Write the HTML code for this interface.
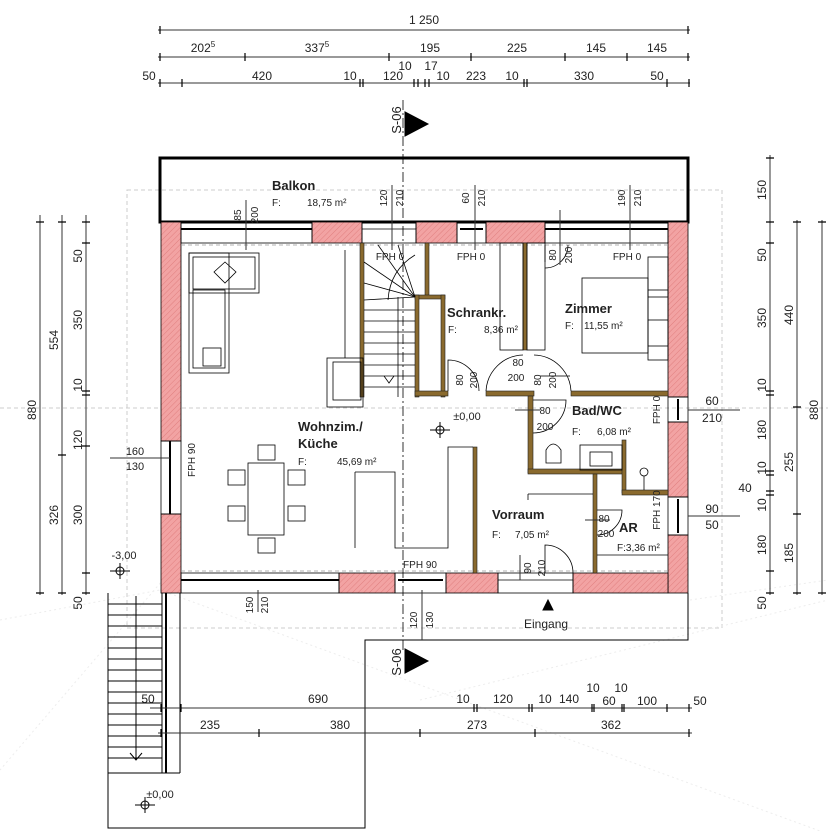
<!DOCTYPE html>
<html><head><meta charset="utf-8"><style>
html,body{margin:0;padding:0;background:#fff;}
svg{display:block;font-family:"Liberation Sans",sans-serif;}
</style></head><body>
<svg width="828" height="831" viewBox="0 0 828 831" xmlns="http://www.w3.org/2000/svg">
<defs>
<pattern id="h" width="4" height="4" patternUnits="userSpaceOnUse" patternTransform="rotate(45)">
<rect width="4" height="4" fill="#f2a3a3"/><line x1="0" y1="0" x2="0" y2="4" stroke="#e07f7f" stroke-width="1"/>
</pattern>
</defs>
<rect width="828" height="831" fill="#fff"/>
<g stroke="#ccc" stroke-width="1" stroke-dasharray="4,3" fill="none">
<rect x="127" y="190" width="595" height="438"/>
<line x1="0" y1="408" x2="828" y2="408"/>
</g>
<g stroke="#ededed" stroke-width="1" stroke-dasharray="2,3" fill="none">
<line x1="0" y1="620" x2="160" y2="590"/>
<line x1="180" y1="560" x2="0" y2="770"/>
<line x1="690" y1="600" x2="828" y2="580"/>
<line x1="160" y1="590" x2="820" y2="831"/>
<line x1="420" y1="700" x2="828" y2="600"/>
</g>
<line x1="403" y1="100" x2="403" y2="650" stroke="#000" stroke-width="0.8" stroke-dasharray="10,3,2,3"/>

<rect x="160" y="158" width="528" height="64" fill="none" stroke="#000" stroke-width="3"/>
<polyline points="108,593 108,828 365,828 365,640 688,640 688,593" fill="none" stroke="#000" stroke-width="1"/>

<g fill="url(#h)" stroke="#000" stroke-width="0.8">
<rect x="161" y="222" width="20" height="219"/>
<rect x="161" y="514" width="20" height="79"/>
<rect x="668" y="222" width="20" height="175"/>
<rect x="668" y="422" width="20" height="75"/>
<rect x="668" y="535" width="20" height="58"/>
<rect x="312" y="222" width="50" height="21"/>
<rect x="416" y="222" width="41" height="21"/>
<rect x="486" y="222" width="59" height="21"/>
<rect x="339" y="573" width="56" height="20"/>
<rect x="446" y="573" width="52" height="20"/>
<rect x="573" y="573" width="95" height="20"/>
</g>
<g stroke="#000" fill="none" stroke-width="0.8">
<rect x="181" y="222" width="131" height="21"/><line x1="181" y1="229" x2="312" y2="229" stroke-width="2"/>
<rect x="362" y="222" width="54" height="21"/><line x1="362" y1="229" x2="416" y2="229"/>
<rect x="457" y="222" width="29" height="21"/><line x1="460" y1="229" x2="483" y2="229" stroke-width="2"/>
<rect x="545" y="222" width="123" height="21"/><line x1="545" y1="229" x2="668" y2="229" stroke-width="2"/>
<rect x="161" y="441" width="20" height="73"/><line x1="170" y1="441" x2="170" y2="514" stroke-width="2"/>
<rect x="668" y="397" width="20" height="25"/><line x1="678" y1="399" x2="678" y2="420" stroke-width="2"/>
<rect x="668" y="497" width="20" height="38"/><line x1="678" y1="499" x2="678" y2="533" stroke-width="2"/>
<rect x="181" y="573" width="158" height="20"/><line x1="181" y1="580" x2="339" y2="580" stroke-width="2"/>
<rect x="395" y="573" width="51" height="20"/><line x1="398" y1="580" x2="443" y2="580" stroke-width="2"/>
<rect x="498" y="573" width="75" height="20"/><line x1="498" y1="580" x2="573" y2="580"/>
</g>
<line x1="181" y1="245" x2="668" y2="245" stroke="#999" stroke-dasharray="4,3" stroke-width="0.8"/>
<line x1="181" y1="571" x2="668" y2="571" stroke="#999" stroke-dasharray="4,3" stroke-width="0.8"/>

<g fill="#8a6a2e" stroke="#222" stroke-width="0.6">
<rect x="360" y="243" width="4" height="154"/>
<rect x="425" y="243" width="4" height="54"/>
<rect x="415" y="295" width="30" height="4"/>
<rect x="415" y="295" width="4" height="102"/>
<rect x="441" y="295" width="4" height="102"/>
<rect x="523" y="243" width="4" height="107"/>
<rect x="415" y="391" width="33" height="5"/>
<rect x="486" y="391" width="48" height="5"/>
<rect x="571" y="391" width="97" height="5"/>
<rect x="528" y="396" width="5" height="77"/>
<rect x="528" y="469" width="97" height="5"/>
<rect x="622" y="440" width="4" height="53"/>
<rect x="622" y="490" width="46" height="5"/>
<rect x="593" y="474" width="4" height="99"/>
<rect x="473" y="447" width="4" height="126"/>
</g>

<g stroke="#000" stroke-width="0.8" fill="none">
<rect x="327" y="358" width="36" height="49"/>
<rect x="333" y="362" width="28" height="38"/>
<line x1="345" y1="250" x2="345" y2="358"/>
<line x1="398" y1="297" x2="398" y2="397"/>
<line x1="364" y1="310" x2="415" y2="310"/><line x1="364" y1="321" x2="415" y2="321"/>
<line x1="364" y1="332" x2="415" y2="332"/><line x1="364" y1="343" x2="415" y2="343"/>
<line x1="364" y1="354" x2="415" y2="354"/><line x1="364" y1="365" x2="415" y2="365"/>
<line x1="364" y1="376" x2="415" y2="376"/><line x1="364" y1="387" x2="415" y2="387"/>
<line x1="415" y1="297" x2="364" y2="283"/><line x1="415" y1="297" x2="364" y2="262"/>
<line x1="415" y1="297" x2="378" y2="245"/><line x1="415" y1="297" x2="398" y2="245"/>
<line x1="415" y1="297" x2="364" y2="300"/>
<path d="M388,300 Q390,270 415,255"/>
<polyline points="384,376 389,383 394,376"/>
</g>

<g stroke="#000" stroke-width="0.8" fill="none">
<rect x="189" y="253" width="70" height="40"/><rect x="193" y="257" width="62" height="32"/>
<rect x="189" y="253" width="40" height="120"/><rect x="193" y="290" width="32" height="78"/>
<rect x="203" y="348" width="18" height="18"/>
<polygon points="225,262 236,272 225,283 214,272"/>
<rect x="248" y="463" width="36" height="72"/>
<rect x="228" y="470" width="17" height="15"/><rect x="228" y="506" width="17" height="15"/>
<rect x="288" y="470" width="17" height="15"/><rect x="288" y="506" width="17" height="15"/>
<rect x="258" y="445" width="17" height="15"/><rect x="258" y="538" width="17" height="15"/>
<polyline points="355,472 395,472 395,548 448,548 448,447 473,447"/>
<polyline points="355,472 355,548"/>
<rect x="500" y="243" width="23" height="107"/>
<rect x="527" y="243" width="18" height="107"/>
<rect x="582" y="278" width="66" height="75"/>
<rect x="648" y="257" width="20" height="40"/><rect x="648" y="320" width="20" height="40"/>
<rect x="648" y="290" width="20" height="56"/>
<path d="M546,463 L546,450 Q553,438 561,450 L561,463 Z"/>
<rect x="580" y="445" width="42" height="25"/><rect x="590" y="452" width="22" height="14"/>
<circle cx="644" cy="472" r="4"/><line x1="644" y1="476" x2="644" y2="490"/>
<line x1="528" y1="494" x2="593" y2="494"/><line x1="528" y1="494" x2="528" y2="500"/>
<line x1="597" y1="555" x2="668" y2="555"/>
<path d="M448,391 L448,360 A31,31 0 0 1 479,391"/>
<path d="M486,391 A38,38 0 0 1 523,355"/><path d="M571,391 A38,38 0 0 0 534,355"/>
<path d="M533,400 L566,400 A33,33 0 0 1 533,433"/>
<path d="M545,262 L545,245 M568,245 A23,23 0 0 1 545,268"/>
<path d="M597,510 L622,510 A25,25 0 0 1 597,535"/>
<path d="M545,573 L545,545 A28,28 0 0 1 573,573"/>
</g>

<g stroke="#000" stroke-width="1" fill="none">
<line x1="162" y1="593" x2="162" y2="773"/><line x1="166" y1="593" x2="166" y2="773" stroke-width="2"/>
<line x1="180" y1="593" x2="180" y2="773"/>
<line x1="108" y1="773" x2="180" y2="773"/>
<line x1="136" y1="596" x2="136" y2="760"/><polyline points="130,753 136,760 142,753"/>
</g>
<g stroke="#000" stroke-width="1">
<line x1="108" y1="604" x2="162" y2="604"/><line x1="108" y1="615" x2="162" y2="615"/>
<line x1="108" y1="626" x2="162" y2="626"/><line x1="108" y1="637" x2="162" y2="637"/>
<line x1="108" y1="648" x2="162" y2="648"/><line x1="108" y1="659" x2="162" y2="659"/>
<line x1="108" y1="670" x2="162" y2="670"/><line x1="108" y1="681" x2="162" y2="681"/>
<line x1="108" y1="692" x2="162" y2="692"/><line x1="108" y1="703" x2="162" y2="703"/>
<line x1="108" y1="714" x2="162" y2="714"/><line x1="108" y1="725" x2="162" y2="725"/>
<line x1="108" y1="736" x2="162" y2="736"/><line x1="108" y1="747" x2="162" y2="747"/>
<line x1="108" y1="758" x2="162" y2="758"/>
</g>

<g stroke="#000" stroke-width="1" fill="#000">
<circle cx="120" cy="571" r="4" fill="none"/><line x1="110" y1="571" x2="130" y2="571"/><line x1="120" y1="563" x2="120" y2="579"/>
<circle cx="145" cy="805" r="4" fill="none"/><line x1="135" y1="805" x2="155" y2="805"/><line x1="145" y1="797" x2="145" y2="813"/>
<circle cx="440" cy="430" r="4" fill="none"/><line x1="430" y1="430" x2="450" y2="430"/><line x1="440" y1="422" x2="440" y2="438"/>
<polygon points="405,112 428,124 405,136"/>
<polygon points="405,649 428,661 405,673"/>
<polygon points="548,600 543,610 553,610"/>
</g>

<g stroke="#333" stroke-width="1" fill="none">
<line x1="158" y1="30" x2="690" y2="30"/>
<line x1="158" y1="57" x2="690" y2="57"/>
<line x1="158" y1="83" x2="690" y2="83"/>
<line x1="40" y1="215" x2="40" y2="595"/>
<line x1="62" y1="215" x2="62" y2="595"/>
<line x1="86" y1="215" x2="86" y2="595"/>
<line x1="770" y1="155" x2="770" y2="595"/>
<line x1="797" y1="220" x2="797" y2="595"/>
<line x1="822" y1="220" x2="822" y2="595"/>
<line x1="150" y1="708" x2="692" y2="708"/>
<line x1="158" y1="733" x2="692" y2="733"/>
<line x1="110" y1="458" x2="170" y2="458"/>
<line x1="688" y1="410" x2="740" y2="410"/>
<line x1="688" y1="516" x2="740" y2="516"/>
<line x1="246" y1="200" x2="246" y2="250"/>
<line x1="392" y1="185" x2="392" y2="250"/>
<line x1="475" y1="185" x2="475" y2="250"/>
<line x1="630" y1="185" x2="630" y2="250"/>
<line x1="258" y1="590" x2="258" y2="612"/>
<line x1="422" y1="590" x2="422" y2="640"/>
<line x1="560" y1="210" x2="560" y2="265"/>
<line x1="540" y1="376" x2="570" y2="376"/>
<line x1="515" y1="410" x2="540" y2="410"/>
<line x1="585" y1="520" x2="610" y2="520"/>
<line x1="520" y1="555" x2="520" y2="580"/>
</g>
<g stroke="#000" stroke-width="1.2">
<path d="M160,26v8M688,26v8M160,53v8M245,53v8M389,53v8M471,53v8M565,53v8M627,53v8M688,53v8"/>
<path d="M160,79v8M182,79v8M360,79v8M363,79v8M414,79v8M418,79v8M425,79v8M429,79v8M524,79v8M527,79v8M667,79v8M689,79v8"/>
<path d="M36,222h8M36,593h8M58,222h8M58,455h8M58,593h8M82,222h8M82,243h8M82,391h8M82,395h8M82,446h8M82,573h8M82,593h8"/>
<path d="M766,158h8M766,222h8M766,243h8M766,391h8M766,395h8M766,471h8M766,475h8M766,491h8M766,495h8M766,571h8M766,593h8"/>
<path d="M793,222h8M793,407h8M793,514h8M793,593h8M818,222h8M818,593h8"/>
<path d="M161,704v8M181,704v8M474,704v8M477,704v8M529,704v8M532,704v8M592,704v8M594,704v8M622,704v8M624,704v8M667,704v8M689,704v8"/>
<path d="M161,729v8M259,729v8M420,729v8M535,729v8M689,729v8"/>
</g>

<g font-size="12" fill="#222" text-anchor="middle">
<text x="424" y="24">1 250</text>
<text x="203" y="52">202<tspan font-size="8" dy="-5">5</tspan></text>
<text x="317" y="52">337<tspan font-size="8" dy="-5">5</tspan></text>
<text x="430" y="52">195</text><text x="517" y="52">225</text><text x="596" y="52">145</text><text x="657" y="52">145</text>
<text x="405" y="70">10</text><text x="431" y="70">17</text>
<text x="149" y="80">50</text><text x="262" y="80">420</text><text x="350" y="80">10</text><text x="393" y="80">120</text>
<text x="443" y="80">10</text><text x="476" y="80">223</text><text x="512" y="80">10</text><text x="584" y="80">330</text><text x="657" y="80">50</text>
<text x="148" y="703">50</text><text x="318" y="703">690</text><text x="463" y="703">10</text><text x="503" y="703">120</text>
<text x="545" y="703">10</text><text x="569" y="703">140</text><text x="593" y="692">10</text><text x="621" y="692">10</text>
<text x="609" y="705">60</text><text x="647" y="705">100</text><text x="700" y="705">50</text>
<text x="210" y="729">235</text><text x="340" y="729">380</text><text x="477" y="729">273</text><text x="611" y="729">362</text>
<text x="712" y="405">60</text><text x="712" y="422">210</text>
<text x="712" y="513">90</text><text x="712" y="529">50</text>
<text x="745" y="492">40</text>
</g>
<g font-size="11" fill="#222" text-anchor="middle">
<text x="135" y="455">160</text><text x="135" y="470">130</text>
<text x="124" y="559">-3,00</text><text x="160" y="798">±0,00</text><text x="467" y="420">±0,00</text>
</g>
<g font-size="12" fill="#222" text-anchor="middle">
<text transform="translate(36,410) rotate(-90)">880</text>
<text transform="translate(58,340) rotate(-90)">554</text>
<text transform="translate(58,515) rotate(-90)">326</text>
<text transform="translate(82,256) rotate(-90)">50</text>
<text transform="translate(82,320) rotate(-90)">350</text>
<text transform="translate(82,385) rotate(-90)">10</text>
<text transform="translate(82,440) rotate(-90)">120</text>
<text transform="translate(82,515) rotate(-90)">300</text>
<text transform="translate(82,603) rotate(-90)">50</text>
<text transform="translate(766,190) rotate(-90)">150</text>
<text transform="translate(766,255) rotate(-90)">50</text>
<text transform="translate(766,318) rotate(-90)">350</text>
<text transform="translate(766,385) rotate(-90)">10</text>
<text transform="translate(766,430) rotate(-90)">180</text>
<text transform="translate(766,468) rotate(-90)">10</text>
<text transform="translate(766,505) rotate(-90)">10</text>
<text transform="translate(766,545) rotate(-90)">180</text>
<text transform="translate(766,603) rotate(-90)">50</text>
<text transform="translate(793,315) rotate(-90)">440</text>
<text transform="translate(793,462) rotate(-90)">255</text>
<text transform="translate(793,553) rotate(-90)">185</text>
<text transform="translate(818,410) rotate(-90)">880</text>
<text transform="translate(401,120) rotate(-90)" font-size="13">S-06</text>
<text transform="translate(401,662) rotate(-90)" font-size="13">S-06</text>
</g>
<g font-size="10" fill="#222" text-anchor="middle">
<text transform="translate(241,215) rotate(-90)">85</text><text transform="translate(258,215) rotate(-90)">200</text>
<text transform="translate(387,198) rotate(-90)">120</text><text transform="translate(403,198) rotate(-90)">210</text>
<text transform="translate(469,198) rotate(-90)">60</text><text transform="translate(485,198) rotate(-90)">210</text>
<text transform="translate(625,198) rotate(-90)">190</text><text transform="translate(641,198) rotate(-90)">210</text>
<text transform="translate(556,255) rotate(-90)">80</text><text transform="translate(572,255) rotate(-90)">200</text>
<text transform="translate(463,380) rotate(-90)">80</text><text transform="translate(477,380) rotate(-90)">200</text>
<text transform="translate(541,380) rotate(-90)">80</text><text transform="translate(556,380) rotate(-90)">200</text>
<text transform="translate(253,605) rotate(-90)">150</text><text transform="translate(268,605) rotate(-90)">210</text>
<text transform="translate(417,620) rotate(-90)">120</text><text transform="translate(433,620) rotate(-90)">130</text>
<text transform="translate(531,568) rotate(-90)">90</text><text transform="translate(545,568) rotate(-90)">210</text>
<text x="518" y="366">80</text><text x="516" y="381">200</text>
<text x="545" y="414">80</text><text x="545" y="430">200</text>
<text x="604" y="522">80</text><text x="606" y="537">200</text>
<text x="390" y="260">FPH 0</text><text x="471" y="260">FPH 0</text><text x="627" y="260">FPH 0</text>
<text x="420" y="568">FPH 90</text>
<text transform="translate(195,460) rotate(-90)">FPH 90</text>
<text transform="translate(660,410) rotate(-90)">FPH 0</text>
<text transform="translate(660,510) rotate(-90)">FPH 170</text>
</g>
<g fill="#222" font-size="10">
<text x="272" y="190" font-size="13" font-weight="bold">Balkon</text>
<text x="272" y="206">F:</text><text x="307" y="206">18,75 m²</text>
<text x="298" y="431" font-size="13" font-weight="bold">Wohnzim./</text>
<text x="298" y="448" font-size="13" font-weight="bold">Küche</text>
<text x="298" y="465">F:</text><text x="337" y="465">45,69 m²</text>
<text x="447" y="317" font-size="13" font-weight="bold">Schrankr.</text>
<text x="448" y="333">F:</text><text x="484" y="333">8,36 m²</text>
<text x="565" y="313" font-size="13" font-weight="bold">Zimmer</text>
<text x="565" y="329">F:</text><text x="584" y="329">11,55 m²</text>
<text x="572" y="415" font-size="13" font-weight="bold">Bad/WC</text>
<text x="572" y="435">F:</text><text x="597" y="435">6,08 m²</text>
<text x="492" y="519" font-size="13" font-weight="bold">Vorraum</text>
<text x="492" y="538">F:</text><text x="515" y="538">7,05 m²</text>
<text x="619" y="532" font-size="13" font-weight="bold">AR</text>
<text x="617" y="551">F:3,36 m²</text>
<text x="524" y="628" font-size="12">Eingang</text>
</g>
</svg>
</body></html>
